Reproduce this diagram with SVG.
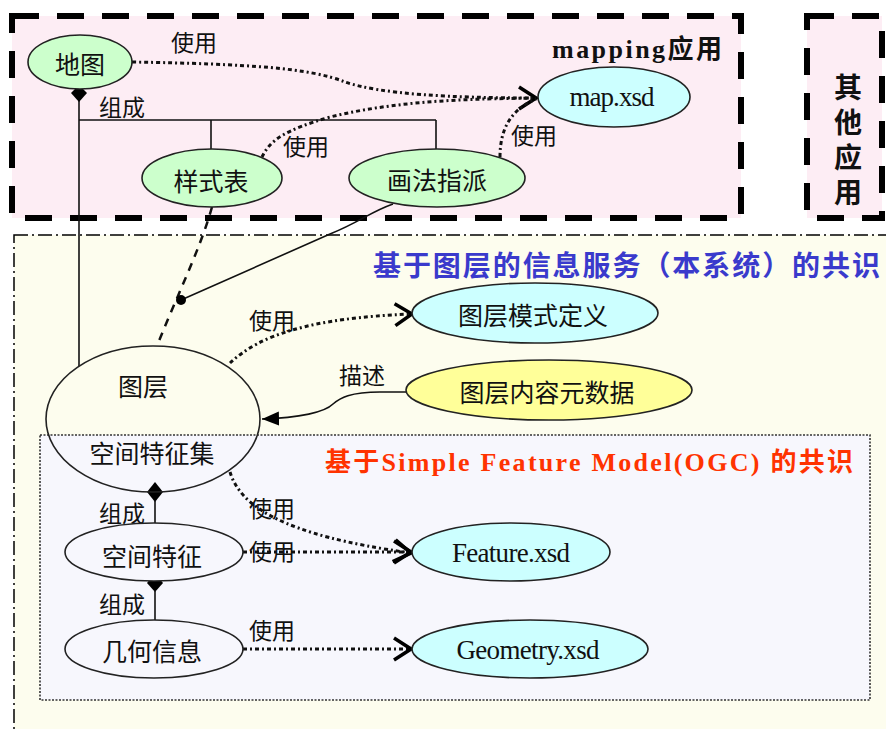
<svg xmlns="http://www.w3.org/2000/svg" width="886" height="729" viewBox="0 0 886 729">
<defs>
<style>
.cjk{font-family:"Noto Sans CJK SC","Noto Sans",sans-serif;fill:#111}
.lbl{font-size:23px}
.nl{font-size:25px}
.ser{font-family:"Liberation Serif","Noto Serif",serif;font-size:27px;fill:#111}
.tt{font-family:"Liberation Serif","Noto Sans CJK SC",serif;font-weight:bold}
.nd{stroke:#222;stroke-width:1.6}
.green{fill:#ccffcc}
.cyan{fill:#ccffff}
.yellow{fill:#ffff99}
.plain{fill:#f7f7fd}
.use{fill:none;stroke:#111;stroke-width:3;stroke-dasharray:4 3 2 3}
.solid{fill:none;stroke:#111;stroke-width:1.6}
.appbox{fill:#fdedf4;stroke:#000;stroke-width:6;stroke-dasharray:27 18}
</style>
<marker id="open" markerUnits="userSpaceOnUse" markerWidth="22" markerHeight="26" viewBox="0 0 22 26" refX="19" refY="13" orient="auto">
<path d="M2,2 L19,13 L2,24" fill="none" stroke="#000" stroke-width="3.5" stroke-dasharray="none"/>
</marker>
<marker id="tri" markerUnits="userSpaceOnUse" markerWidth="18" markerHeight="16" viewBox="0 0 18 16" refX="17" refY="8" orient="auto">
<path d="M0,1 L17,8 L0,15 z" fill="#000" stroke="none"/>
</marker>
</defs>

<g id="backgrounds">
<rect x="0" y="0" width="886" height="729" fill="#ffffff"/>
<rect class="appbox" x="12" y="16" width="729" height="202"/>
<rect class="appbox" x="807" y="16" width="75" height="202"/>
<rect x="14" y="235" width="900" height="520" fill="#fdfdee" stroke="#000" stroke-width="1.5" stroke-dasharray="14 4 2 4"/>
<rect x="40" y="435" width="830" height="265" fill="#f7f7fd" stroke="#333" stroke-width="1.6" stroke-dasharray="2 1.5"/>
</g>

<g id="titles">
<text class="tt" x="552" y="58" font-size="26" textLength="170" fill="#111">mapping应用</text>
<g class="tt" font-size="28" fill="#111" text-anchor="middle" font-family="Noto Sans CJK SC, sans-serif">
<text x="848" y="98">其</text>
<text x="848" y="133">他</text>
<text x="848" y="168">应</text>
<text x="848" y="203">用</text>
</g>
<text x="373" y="276" font-family="Noto Sans CJK SC, sans-serif" font-weight="bold" font-size="28" textLength="507" fill="#3a3acc">基于图层的信息服务（本系统）的共识</text>
<text class="tt" x="325" y="471" font-size="26" textLength="528" fill="#ff3300">基于Simple Feature Model(OGC) 的共识</text>
</g>

<g id="connectors">
<path class="use" d="M132,62 C250,64 310,68 345,82 C380,94 450,98 536,98" marker-end="url(#open)"/>
<path class="use" d="M262,157 C270,140 285,130 330,117 C400,100 470,99 536,98"/>
<path class="use" d="M500,157 C500,130 510,110 536,99"/>
<path class="solid" d="M79,100 L79,366" stroke-width="2"/>
<path class="solid" d="M79,120 L436,120 M211,120 L211,149 M436,120 L436,149"/>
<polygon points="79,85 87,93 79,102 71,93" fill="#000"/>
<path d="M212,207 C200,250 175,300 157,346" fill="none" stroke="#111" stroke-width="2.5" stroke-dasharray="8 7"/>
<path class="solid" d="M393,204 C370,212 360,222 330,234 L181,300"/>
<circle cx="181" cy="300" r="5" fill="#000"/>
<path class="use" d="M230,363 C260,335 310,318 412,314" marker-end="url(#open)"/>
<path class="solid" d="M406,392 L380,392 C350,392 340,398 333,404 C325,412 300,418 262,419" marker-end="url(#tri)"/>
<polygon points="155,482 163,492 155,502 147,492" fill="#000"/>
<path class="solid" d="M155,500 L155,523" stroke-width="2"/>
<polygon points="155,573 163,583 155,592 147,583" fill="#000"/>
<path class="solid" d="M155,590 L155,620" stroke-width="2"/>
<path class="use" d="M230,472 C240,505 280,535 411,553" marker-end="url(#open)"/>
<path class="use" d="M243,552 L411,552" marker-end="url(#open)"/>
<path class="use" d="M243,649 L411,649" marker-end="url(#open)"/>
<g class="cjk lbl" text-anchor="middle" dominant-baseline="central">
<text x="194" y="41">使用</text>
<text x="306" y="145">使用</text>
<text x="534" y="134">使用</text>
<text x="122" y="106">组成</text>
<text x="272" y="319">使用</text>
<text x="362" y="374">描述</text>
<text x="122" y="512">组成</text>
<text x="122" y="603">组成</text>
<text x="272" y="507">使用</text>
<text x="272" y="550">使用</text>
<text x="272" y="629">使用</text>
</g>
</g>

<g id="node-ditu">
<ellipse class="nd green" cx="80" cy="62" rx="52" ry="27"/>
<text class="cjk nl" x="80" y="63" text-anchor="middle" dominant-baseline="central">地图</text>
</g>
<g id="node-yangshibiao">
<ellipse class="nd green" cx="212" cy="178" rx="70" ry="29"/>
<text class="cjk nl" x="211" y="180" text-anchor="middle" dominant-baseline="central">样式表</text>
</g>
<g id="node-huafazhipai">
<ellipse class="nd green" cx="437" cy="178" rx="88" ry="29"/>
<text class="cjk nl" x="437" y="179" text-anchor="middle" dominant-baseline="central">画法指派</text>
</g>
<g id="node-mapxsd">
<ellipse class="nd cyan" cx="614" cy="97" rx="76" ry="30"/>
<text class="ser" x="612" y="106" text-anchor="middle" textLength="85">map.xsd</text>
</g>
<g id="node-tuceng">
<ellipse class="nd" cx="153" cy="419" rx="107" ry="73" fill="none"/>
<text class="cjk nl" x="143" y="385" text-anchor="middle" dominant-baseline="central">图层</text>
<text class="cjk nl" x="152" y="452" text-anchor="middle" dominant-baseline="central">空间特征集</text>
</g>
<g id="node-tucengmoshi">
<ellipse class="nd cyan" cx="535" cy="313" rx="123" ry="30"/>
<text class="cjk nl" x="533" y="314" text-anchor="middle" dominant-baseline="central">图层模式定义</text>
</g>
<g id="node-tucengneirong">
<ellipse class="nd yellow" cx="549" cy="390" rx="143" ry="30"/>
<text class="cjk nl" x="547" y="391" text-anchor="middle" dominant-baseline="central">图层内容元数据</text>
</g>
<g id="node-kongjiantezheng">
<ellipse class="nd plain" cx="154" cy="552" rx="89" ry="29"/>
<text class="cjk nl" x="152" y="555" text-anchor="middle" dominant-baseline="central">空间特征</text>
</g>
<g id="node-jihexinxi">
<ellipse class="nd plain" cx="154" cy="649" rx="89" ry="29"/>
<text class="cjk nl" x="152" y="650" text-anchor="middle" dominant-baseline="central">几何信息</text>
</g>
<g id="node-featurexsd">
<ellipse class="nd cyan" cx="511" cy="552" rx="99" ry="29"/>
<text class="ser" x="511" y="562" text-anchor="middle" textLength="118">Feature.xsd</text>
</g>
<g id="node-geometryxsd">
<ellipse class="nd cyan" cx="530" cy="649" rx="118" ry="29"/>
<text class="ser" x="528" y="659" text-anchor="middle" textLength="143">Geometry.xsd</text>
</g>
</svg>
